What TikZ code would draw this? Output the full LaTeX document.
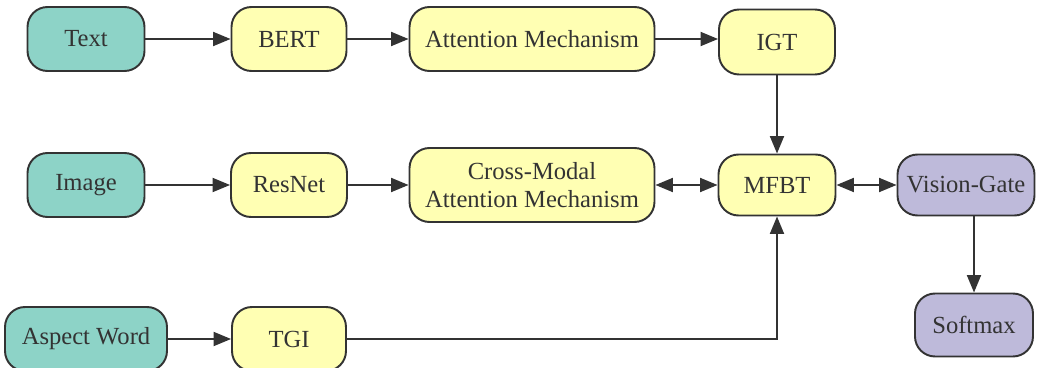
\documentclass[tikz,border=0pt]{standalone}
\usepackage{fontspec}
\setmainfont{Liberation Serif}
\usetikzlibrary{arrows.meta}
\definecolor{inputc}{HTML}{8DD3C7}
\definecolor{procc}{HTML}{FFFFB3}
\definecolor{outc}{HTML}{BEBADA}
\definecolor{edgec}{HTML}{333333}
\tikzset{
  box/.style={draw=edgec,line width=1.1pt,rounded corners=0.4cm,
    minimum height=1.28cm,align=center,font=\fontsize{14}{16}\selectfont,
    text=black!80,inner sep=2pt},
  inbox/.style={box,fill=inputc},
  probox/.style={box,fill=procc},
  outbox/.style={box,fill=outc},
  arr/.style={draw=edgec,line width=1.1pt,-{Triangle[length=0.35cm,width=0.28cm]}},
  darr/.style={draw=edgec,line width=1.1pt,
    {Triangle[length=0.35cm,width=0.28cm]}-{Triangle[length=0.35cm,width=0.28cm]}}
}
\begin{document}
\begin{tikzpicture}[x=0.02cm,y=-0.02cm]
      \useasboundingbox (0,0) rectangle (1049,368);
      % first row: text branch
      \node[inbox,minimum width=2.34cm]  (text) at (86,39)  {Text};
      \node[probox,minimum width=2.30cm] (bert) at (289,39) {BERT};
      \node[probox,minimum width=4.90cm] (att)  at (532,39) {Attention Mechanism};
      \node[probox,minimum width=2.32cm,minimum height=1.3cm] (igt) at (777,42) {IGT};
      % second row: image branch
      \node[inbox,minimum width=2.34cm]  (image)  at (86,185)  {Image};
      \node[probox,minimum width=2.32cm] (resnet) at (289,185) {ResNet};
      \node[probox,minimum width=4.90cm,minimum height=1.48cm] (cma) at (532,185)
            {Cross-Modal\\Attention Mechanism};
      \node[probox,minimum width=2.34cm,minimum height=1.22cm] (mfbt) at (777,185) {MFBT};
      \node[outbox,minimum width=2.74cm,minimum height=1.22cm] (vg) at (966,185) {Vision-Gate};
      \node[outbox,minimum width=2.36cm,minimum height=1.26cm] (soft) at (974,325) {Softmax};
      % third row: aspect branch
      \node[inbox,minimum width=3.24cm]  (aspect) at (86,339)  {Aspect Word};
      \node[probox,minimum width=2.28cm] (tgi)    at (289,339) {TGI};
      % connectors
      \draw[arr] (text) -- (bert);
      \draw[arr] (bert) -- (att);
      \draw[arr] (att.east) -- (att.east -| igt.west);
      \draw[arr] (igt) -- (mfbt);
      \draw[arr] (image) -- (resnet);
      \draw[arr] (resnet) -- (cma);
      \draw[darr] (cma) -- (mfbt);
      \draw[darr] (mfbt) -- (vg);
      \draw[arr] (vg.south -| soft.north) -- (soft.north);
      \draw[arr] (aspect) -- (tgi);
      \draw[arr,rounded corners=0pt] (tgi.east) -| (mfbt.south);
\end{tikzpicture}
\end{document}
